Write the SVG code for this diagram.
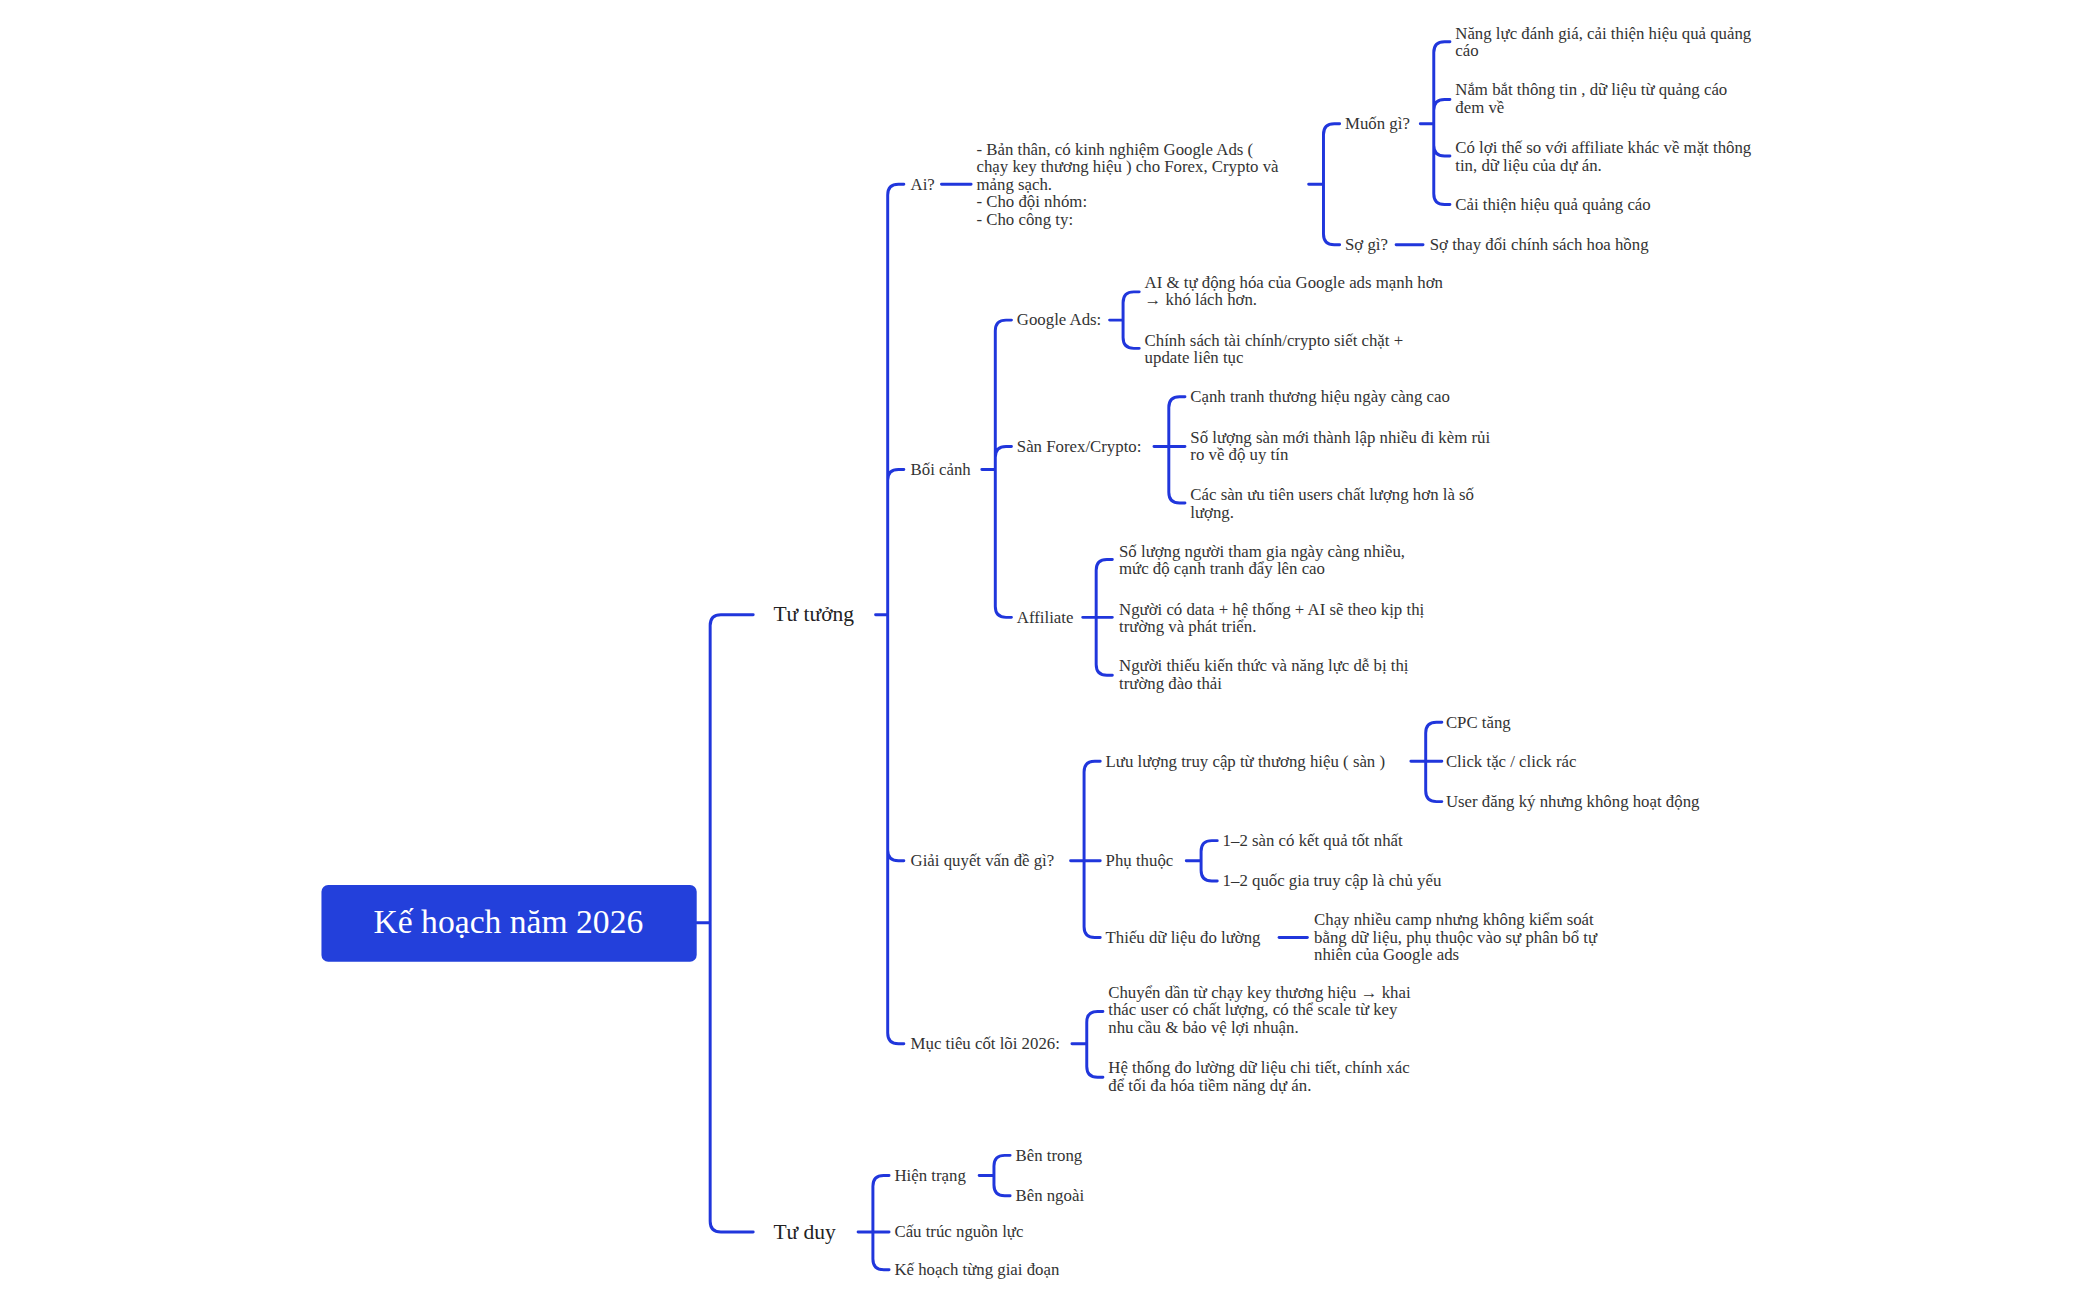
<svg xmlns="http://www.w3.org/2000/svg" width="2099" height="1299" viewBox="0 0 2099 1299">
<style>
.c{fill:none;stroke:#2036dc;stroke-width:2.2;stroke-linecap:round}
.t{font-family:"Liberation Serif","DejaVu Serif",serif;font-size:12.5px;fill:#333}
.m{font-family:"Liberation Serif","DejaVu Serif",serif;font-size:16px;fill:#222}
.r{font-family:"Liberation Serif","DejaVu Serif",serif;font-size:25px;fill:#fff}
</style>
<rect width="2099" height="1299" fill="#fff"/>
<g transform="scale(1.345)">
<g id="connectors">
<path class="c" d="M518,686 H528 M528,686 V465 Q528,457 536,457 H560 M528,686 V908 Q528,916 536,916 H560"/>
<path class="c" d="M651,457 H660 M660,457 V145 Q660,137 668,137 H672 M660,457 V357 Q660,349 668,349 H672 M660,457 V632 Q660,640 668,640 H672 M660,457 V768 Q660,776 668,776 H672"/>
<path class="c" d="M700,137 H722 M973,137 H984 M984,137 V100 Q984,92 992,92 H996 M984,137 V174 Q984,182 992,182 H996"/>
<path class="c" d="M1056,92 H1066 M1066,92 V39 Q1066,31 1074,31 H1078 M1066,92 V82 Q1066,74 1074,74 H1078 M1066,92 V108 Q1066,116 1074,116 H1078 M1066,92 V144 Q1066,152 1074,152 H1078"/>
<path class="c" d="M1038,182 H1058"/>
<path class="c" d="M730,349 H740 M740,349 V246 Q740,238 748,238 H752 M740,349 V340 Q740,332 748,332 H752 M740,349 V451 Q740,459 748,459 H752"/>
<path class="c" d="M825,238 H835 M835,238 V225 Q835,217 843,217 H847 M835,238 V251 Q835,259 843,259 H847"/>
<path class="c" d="M858,332 H869 M869,332 V303 Q869,295 877,295 H881 M869,332 H881 M869,332 V366 Q869,374 877,374 H881"/>
<path class="c" d="M805,459 H815 M815,459 V424 Q815,416 823,416 H827 M815,459 H827 M815,459 V494 Q815,502 823,502 H827"/>
<path class="c" d="M796,640 H806 M806,640 V574 Q806,566 814,566 H818 M806,640 H818 M806,640 V689 Q806,697 814,697 H818"/>
<path class="c" d="M1049,566 H1060 M1060,566 V545 Q1060,537 1068,537 H1072 M1060,566 H1072 M1060,566 V588 Q1060,596 1068,596 H1072"/>
<path class="c" d="M882,640 H893 M893,640 V633 Q893,625 901,625 H905 M893,640 V647 Q893,655 901,655 H905"/>
<path class="c" d="M951,697 H972"/>
<path class="c" d="M797,776 H808 M808,776 V760 Q808,752 816,752 H820 M808,776 V793 Q808,801 816,801 H820"/>
<path class="c" d="M638,916 H649 M649,916 V882 Q649,874 657,874 H661 M649,916 H661 M649,916 V936 Q649,944 657,944 H661"/>
<path class="c" d="M728,874 H739 M739,874 V867 Q739,859 747,859 H751 M739,874 V881 Q739,889 747,889 H751"/>
</g>
<g id="root"><rect x="239" y="658" width="279" height="57" rx="5" fill="#2340db"/><text class="r" x="378" y="694" text-anchor="middle">Kế hoạch năm 2026</text></g>
<g id="tu-tuong"><text class="m" x="575" y="462">Tư tưởng</text></g>
<g id="tu-duy"><text class="m" x="575" y="921">Tư duy</text></g>
<g id="ai"><text class="t" x="677" y="141">Ai?</text></g>
<g id="ai-desc"><text class="t" x="726" y="115"><tspan x="726">- Bản thân, có kinh nghiệm Google Ads (</tspan><tspan x="726" dy="13">chạy key thương hiệu ) cho Forex, Crypto và</tspan><tspan x="726" dy="13">mảng sạch.</tspan><tspan x="726" dy="13">- Cho đội nhóm:</tspan><tspan x="726" dy="13">- Cho công ty:</tspan></text></g>
<g id="muon-gi"><text class="t" x="1000" y="96">Muốn gì?</text></g>
<g id="mg1"><text class="t" x="1082" y="29"><tspan x="1082">Năng lực đánh giá, cải thiện hiệu quả quảng</tspan><tspan x="1082" dy="13">cáo</tspan></text></g>
<g id="mg2"><text class="t" x="1082" y="71"><tspan x="1082">Nắm bắt thông tin , dữ liệu từ quảng cáo</tspan><tspan x="1082" dy="13">đem về</tspan></text></g>
<g id="mg3"><text class="t" x="1082" y="114"><tspan x="1082">Có lợi thế so với affiliate khác về mặt thông</tspan><tspan x="1082" dy="13">tin, dữ liệu của dự án.</tspan></text></g>
<g id="mg4"><text class="t" x="1082" y="156">Cải thiện hiệu quả quảng cáo</text></g>
<g id="so-gi"><text class="t" x="1000" y="186">Sợ gì?</text></g>
<g id="sg1"><text class="t" x="1063" y="186">Sợ thay đổi chính sách hoa hồng</text></g>
<g id="boi-canh"><text class="t" x="677" y="353">Bối cảnh</text></g>
<g id="google-ads"><text class="t" x="756" y="242">Google Ads:</text></g>
<g id="ga1"><text class="t" x="851" y="214"><tspan x="851">AI &amp; tự động hóa của Google ads mạnh hơn</tspan><tspan x="851" dy="13">→ khó lách hơn.</tspan></text></g>
<g id="ga2"><text class="t" x="851" y="257"><tspan x="851">Chính sách tài chính/crypto siết chặt +</tspan><tspan x="851" dy="13">update liên tục</tspan></text></g>
<g id="san"><text class="t" x="756" y="336">Sàn Forex/Crypto:</text></g>
<g id="s1"><text class="t" x="885" y="299">Cạnh tranh thương hiệu ngày càng cao</text></g>
<g id="s2"><text class="t" x="885" y="329"><tspan x="885">Số lượng sàn mới thành lập nhiều đi kèm rủi</tspan><tspan x="885" dy="13">ro về độ uy tín</tspan></text></g>
<g id="s3"><text class="t" x="885" y="372"><tspan x="885">Các sàn ưu tiên users chất lượng hơn là số</tspan><tspan x="885" dy="13">lượng.</tspan></text></g>
<g id="affiliate"><text class="t" x="756" y="463">Affiliate</text></g>
<g id="af1"><text class="t" x="832" y="414"><tspan x="832">Số lượng người tham gia ngày càng nhiều,</tspan><tspan x="832" dy="13">mức độ cạnh tranh đẩy lên cao</tspan></text></g>
<g id="af2"><text class="t" x="832" y="457"><tspan x="832">Người có data + hệ thống + AI sẽ theo kịp thị</tspan><tspan x="832" dy="13">trường và phát triển.</tspan></text></g>
<g id="af3"><text class="t" x="832" y="499"><tspan x="832">Người thiếu kiến thức và năng lực dễ bị thị</tspan><tspan x="832" dy="13">trường đào thải</tspan></text></g>
<g id="giai-quyet"><text class="t" x="677" y="644">Giải quyết vấn đề gì?</text></g>
<g id="luu-luong"><text class="t" x="822" y="570">Lưu lượng truy cập từ thương hiệu ( sàn )</text></g>
<g id="ll1"><text class="t" x="1075" y="541">CPC tăng</text></g>
<g id="ll2"><text class="t" x="1075" y="570">Click tặc / click rác</text></g>
<g id="ll3"><text class="t" x="1075" y="600">User đăng ký nhưng không hoạt động</text></g>
<g id="phu-thuoc"><text class="t" x="822" y="644">Phụ thuộc</text></g>
<g id="pt1"><text class="t" x="909" y="629">1–2 sàn có kết quả tốt nhất</text></g>
<g id="pt2"><text class="t" x="909" y="659">1–2 quốc gia truy cập là chủ yếu</text></g>
<g id="thieu"><text class="t" x="822" y="701">Thiếu dữ liệu đo lường</text></g>
<g id="th1"><text class="t" x="977" y="688"><tspan x="977">Chạy nhiều camp nhưng không kiểm soát</tspan><tspan x="977" dy="13">bằng dữ liệu, phụ thuộc vào sự phân bổ tự</tspan><tspan x="977" dy="13">nhiên của Google ads</tspan></text></g>
<g id="muc-tieu"><text class="t" x="677" y="780">Mục tiêu cốt lõi 2026:</text></g>
<g id="mt1"><text class="t" x="824" y="742"><tspan x="824">Chuyển dần từ chạy key thương hiệu → khai</tspan><tspan x="824" dy="13">thác user có chất lượng, có thể scale từ key</tspan><tspan x="824" dy="13">nhu cầu &amp; bảo vệ lợi nhuận.</tspan></text></g>
<g id="mt2"><text class="t" x="824" y="798"><tspan x="824">Hệ thống đo lường dữ liệu chi tiết, chính xác</tspan><tspan x="824" dy="13">để tối đa hóa tiềm năng dự án.</tspan></text></g>
<g id="hien-trang"><text class="t" x="665" y="878">Hiện trạng</text></g>
<g id="ben-trong"><text class="t" x="755" y="863">Bên trong</text></g>
<g id="ben-ngoai"><text class="t" x="755" y="893">Bên ngoài</text></g>
<g id="cau-truc"><text class="t" x="665" y="920">Cấu trúc nguồn lực</text></g>
<g id="ke-hoach"><text class="t" x="665" y="948">Kế hoạch từng giai đoạn</text></g>
</g>
</svg>
